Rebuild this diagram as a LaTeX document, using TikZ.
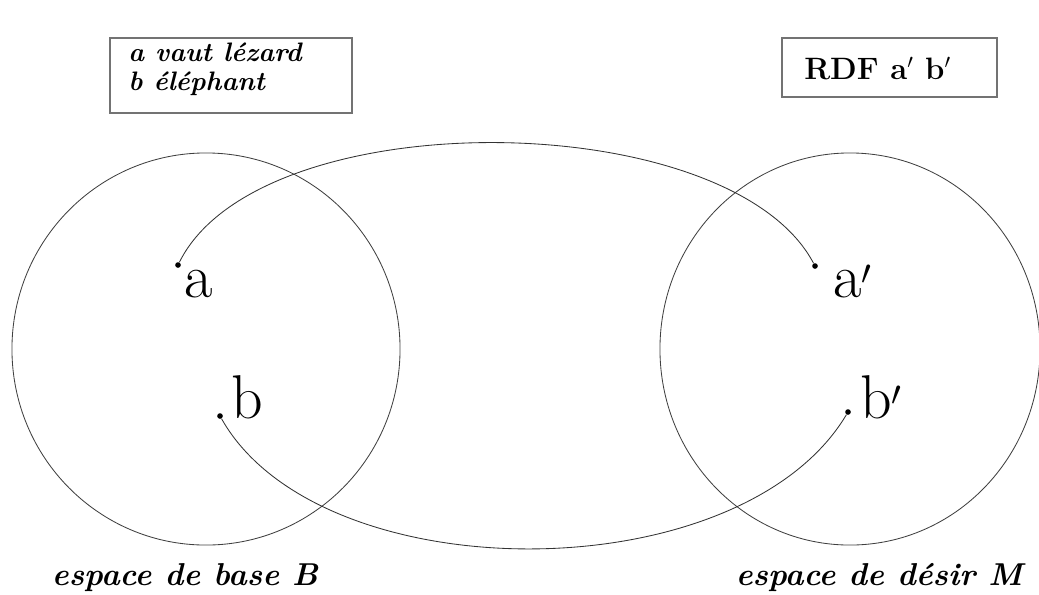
\documentclass[tikz,border=0pt]{standalone}
\usepackage{tikz}
\usetikzlibrary{positioning}

\begin{document}
\begin{tikzpicture}[x=0.025cm, y=-0.025cm,
  pt/.style={circle, fill=black, inner sep=0pt, minimum size=4pt},
  lbl/.style={font=\fontsize{44}{50}\selectfont, inner sep=0pt},
  space/.style={draw=black!75, line width=0.6pt},
  link/.style={draw=black!80, line width=0.6pt},
  legend/.style={draw=black!55, line width=0.8pt, inner sep=0pt, anchor=north west},
  keytext/.style={font=\fontsize{19}{20.5}\bfseries\itshape, align=left, inner sep=0pt, anchor=north west},
  caption/.style={font=\fontsize{22.5}{27}\bfseries\itshape, inner sep=0pt, anchor=base}
]
  \useasboundingbox (0,0) rectangle (1039,594);

  % the two spaces
  \draw[space] (206,349) ellipse [x radius=4.85cm, y radius=4.9cm];
  \draw[space] (850,349) ellipse [x radius=4.75cm, y radius=4.9cm];

  % points
  \node[pt] (a)  at (178,265) {};
  \node[pt] (b)  at (220,416) {};
  \node[pt] (a2) at (815,266) {};
  \node[pt] (b2) at (848,412) {};

  \node[lbl, anchor=base west] (la)  at (184,297) {a};
  \node[lbl, anchor=base west] (lb)  at (231,418) {b};
  \node[lbl, anchor=base west] (la2) at (833,297) {a$'$};
  \node[lbl, anchor=base west] (lb2) at (860,418) {b$'$};

  % mappings
  \draw[link] (a) .. controls (260,100) and (730,105) .. (a2);
  \draw[link] (b) .. controls (320,593) and (740,593) .. (b2);

  % legends
  \draw[legend] (110,38) rectangle (352,113);
  \node[keytext] (key) at (128,43) {a vaut lézard\\b éléphant};
  \draw[legend] (782,38) rectangle (997,97);
  \node[font=\fontsize{22}{26}\bfseries, inner sep=0pt, anchor=base west] (rdf) at (804,79) {RDF a$'$ b$'$};

  % captions
  \node[caption] (base)  at (185,585) {espace de base B};
  \node[caption] (desir) at (879,585) {espace de désir M};
\end{tikzpicture}
\end{document}
